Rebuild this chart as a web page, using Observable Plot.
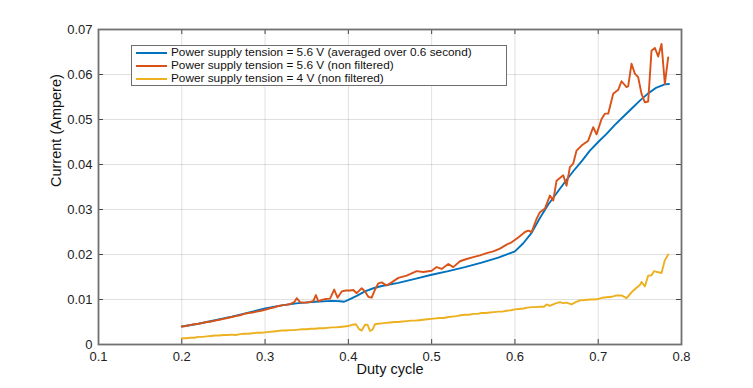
<!DOCTYPE html>
<html>
<head>
<meta charset="utf-8">
<script src="https://cdn.jsdelivr.net/npm/d3@7"></script>
<script src="https://cdn.jsdelivr.net/npm/@observablehq/plot@0.6"></script>
<style>
  html, body { margin: 0; padding: 0; background: #fff; }
  #wrap { position: relative; width: 753px; height: 388px; font-family: "Liberation Sans", Arial, Helvetica, sans-serif; }
  #legend { position: absolute; left: 131px; top: 45px; width: 374px; height: 39px; border: 1px solid #6e6e6e; background: #fff; box-sizing: content-box; padding-top: 0px; }
  .row { height: 13px; line-height: 13px; font-size: 11.8px; color: #111; white-space: nowrap; display: flex; align-items: center; }
  .sw { display: inline-block; width: 31px; height: 2px; margin-left: 4px; margin-right: 4px; }
</style>
</head>
<body>
<div id="wrap"></div>
<script>
const seriesNames = [
  "Power supply tension = 5.6 V (averaged over 0.6 second)",
  "Power supply tension = 5.6 V (non filtered)",
  "Power supply tension = 4 V (non filtered)"
];
const seriesColors = ["#0072BD", "#D95319", "#EDB120"];
const xTicks = [0.1, 0.2, 0.3, 0.4, 0.5, 0.6, 0.7, 0.8];
const yTicks = [0, 0.01, 0.02, 0.03, 0.04, 0.05, 0.06, 0.07];
const xLabel = "Duty cycle";
const yLabel = "Current (Ampere)";

const blueX = [0.20,0.22,0.24,0.26,0.28,0.30,0.32,0.34,0.36,0.38,0.39,0.395,0.40,0.41,0.42,0.43,0.44,0.46,0.48,0.50,0.52,0.54,0.56,0.58,0.60,0.61,0.62,0.63,0.64,0.65,0.66,0.67,0.68,0.69,0.70,0.71,0.72,0.73,0.74,0.75,0.76,0.77,0.78,0.785];
const blueY = [0.0040,0.0046,0.0054,0.0062,0.0071,0.0080,0.0087,0.0092,0.0095,0.0097,0.0096,0.0095,0.0099,0.0108,0.0118,0.0125,0.0130,0.0137,0.0146,0.0155,0.0163,0.0172,0.0182,0.0193,0.0207,0.0225,0.0248,0.0281,0.0311,0.0336,0.0361,0.0385,0.0407,0.0431,0.0450,0.0468,0.0488,0.0506,0.0524,0.0542,0.0558,0.0571,0.0578,0.0579];

const redX = [0.200,0.205,0.210,0.215,0.220,0.225,0.230,0.235,0.240,0.245,0.250,0.255,0.260,0.265,0.270,0.275,0.280,0.285,0.290,0.295,0.300,0.305,0.310,0.315,0.320,0.325,0.330,0.335,0.338,0.342,0.346,0.350,0.355,0.358,0.361,0.364,0.368,0.372,0.378,0.383,0.387,0.392,0.397,0.402,0.406,0.410,0.416,0.420,0.424,0.428,0.432,0.436,0.440,0.446,0.452,0.460,0.470,0.482,0.490,0.500,0.506,0.512,0.520,0.526,0.534,0.542,0.550,0.558,0.566,0.574,0.582,0.590,0.596,0.604,0.612,0.616,0.620,0.626,0.630,0.636,0.642,0.646,0.650,0.658,0.662,0.666,0.670,0.674,0.680,0.688,0.694,0.698,0.704,0.708,0.712,0.718,0.724,0.728,0.734,0.736,0.740,0.744,0.748,0.752,0.756,0.760,0.764,0.768,0.772,0.776,0.780,0.784];
const redY = [0.0040,0.0041,0.0043,0.0045,0.0046,0.0048,0.0050,0.0051,0.0053,0.0055,0.0057,0.0059,0.0061,0.0063,0.0065,0.0068,0.0070,0.0071,0.0073,0.0075,0.0077,0.0080,0.0082,0.0085,0.0087,0.0088,0.0090,0.0094,0.0103,0.0094,0.0093,0.0093,0.0095,0.0097,0.0110,0.0096,0.0099,0.0101,0.0102,0.0122,0.0104,0.0118,0.0120,0.0120,0.0121,0.0114,0.0125,0.0118,0.0106,0.0104,0.0122,0.0136,0.0138,0.0131,0.0138,0.0148,0.0153,0.0163,0.0161,0.0164,0.0172,0.0168,0.0179,0.0172,0.0185,0.0190,0.0194,0.0198,0.0203,0.0207,0.0213,0.0222,0.0227,0.0238,0.0250,0.0253,0.0250,0.0279,0.0294,0.0302,0.0331,0.0320,0.0364,0.0376,0.0353,0.0394,0.0402,0.0431,0.0442,0.0453,0.0483,0.0467,0.0501,0.0513,0.0513,0.0557,0.0566,0.0585,0.0572,0.0574,0.0624,0.0602,0.0594,0.0557,0.0538,0.0540,0.0653,0.0659,0.0640,0.0668,0.0579,0.0638];

const yellowX = [0.200,0.205,0.210,0.215,0.220,0.225,0.230,0.235,0.240,0.245,0.250,0.255,0.260,0.265,0.270,0.275,0.280,0.285,0.290,0.295,0.300,0.305,0.310,0.315,0.320,0.325,0.330,0.335,0.340,0.345,0.350,0.355,0.360,0.365,0.370,0.375,0.380,0.385,0.390,0.395,0.400,0.405,0.409,0.413,0.416,0.420,0.423,0.426,0.429,0.432,0.436,0.440,0.445,0.450,0.455,0.460,0.465,0.470,0.475,0.480,0.485,0.490,0.495,0.500,0.505,0.510,0.515,0.520,0.525,0.530,0.535,0.540,0.545,0.550,0.555,0.560,0.565,0.570,0.575,0.580,0.585,0.590,0.595,0.600,0.605,0.610,0.615,0.620,0.625,0.630,0.635,0.638,0.642,0.648,0.654,0.658,0.662,0.668,0.673,0.678,0.684,0.690,0.695,0.700,0.705,0.710,0.716,0.722,0.728,0.734,0.740,0.746,0.750,0.752,0.756,0.760,0.764,0.767,0.771,0.776,0.780,0.784];
const yellowY = [0.0014,0.0014,0.0015,0.0015,0.0017,0.0017,0.0018,0.0019,0.0020,0.0020,0.0021,0.0021,0.0022,0.0021,0.0023,0.0024,0.0024,0.0025,0.0026,0.0026,0.0027,0.0028,0.0029,0.0030,0.0031,0.0031,0.0032,0.0032,0.0033,0.0034,0.0034,0.0035,0.0035,0.0036,0.0036,0.0037,0.0038,0.0038,0.0039,0.0040,0.0041,0.0044,0.0045,0.0034,0.0031,0.0044,0.0044,0.0030,0.0033,0.0045,0.0046,0.0047,0.0048,0.0049,0.0050,0.0050,0.0051,0.0052,0.0053,0.0053,0.0054,0.0055,0.0056,0.0057,0.0058,0.0059,0.0059,0.0061,0.0062,0.0063,0.0065,0.0066,0.0066,0.0068,0.0068,0.0070,0.0070,0.0071,0.0072,0.0073,0.0073,0.0075,0.0076,0.0078,0.0079,0.0080,0.0082,0.0083,0.0083,0.0084,0.0084,0.0089,0.0086,0.0091,0.0094,0.0092,0.0093,0.0089,0.0094,0.0098,0.0099,0.0100,0.0100,0.0101,0.0104,0.0105,0.0106,0.0109,0.0109,0.0103,0.0116,0.0126,0.0132,0.0139,0.0129,0.0153,0.0154,0.0163,0.0161,0.0159,0.0187,0.0200];

const seriesX = [blueX, redX, yellowX];
const seriesY = [blueY, redY, yellowY];
const rows = [];
seriesX.forEach((xs, s) => xs.forEach((x, i) => rows.push({series: seriesNames[s], x, y: seriesY[s][i]})));

const fmt = d => String(+d.toFixed(2));
const mL = 98, mR = 72, mT = 29, mB = 44, W = 753, H = 388;
const innerH = H - mT - mB, innerW = W - mL - mR, tk = 5;

const chart = Plot.plot({
  width: W, height: H,
  marginLeft: mL, marginRight: mR, marginTop: mT, marginBottom: mB,
  style: {fontFamily: '"Liberation Sans", Arial, Helvetica, sans-serif', fontSize: "13px", color: "#222", background: "#fff"},
  x: {domain: [0.1, 0.8]},
  y: {domain: [0, 0.07]},
  color: {domain: seriesNames, range: seriesColors},
  marks: [
    Plot.gridX(xTicks, {stroke: "#000", strokeOpacity: 0.12}),
    Plot.gridY(yTicks, {stroke: "#000", strokeOpacity: 0.12}),
    Plot.line(rows, {x: "x", y: "y", z: "series", stroke: "series", strokeWidth: 1.9}),
    Plot.tickX(xTicks, {x: d => d, insetTop: innerH - tk, stroke: "#444", strokeWidth: 1}),
    Plot.tickX(xTicks, {x: d => d, insetBottom: innerH - tk, stroke: "#444", strokeWidth: 1}),
    Plot.tickY(yTicks, {y: d => d, insetRight: innerW - tk, stroke: "#444", strokeWidth: 1}),
    Plot.tickY(yTicks, {y: d => d, insetLeft: innerW - tk, stroke: "#444", strokeWidth: 1}),
    Plot.frame({stroke: "#707070", strokeWidth: 1.8}),
    Plot.axisX(xTicks, {tickSize: 0, tickPadding: 7, tickFormat: fmt, label: null, fontSize: 13}),
    Plot.axisY(yTicks, {tickSize: 0, tickPadding: 6, tickFormat: fmt, label: null, fontSize: 13}),
    Plot.text([xLabel], {frameAnchor: "bottom", dy: 25, text: d => d, fontSize: 14.5, lineAnchor: "middle", fill: "#111"}),
    Plot.text([yLabel], {frameAnchor: "left", dx: -42, rotate: -90, text: d => d, fontSize: 14.5, lineAnchor: "middle", fill: "#111"})
  ]
});

const wrap = document.getElementById("wrap");
wrap.appendChild(chart);
const legend = document.createElement("div");
legend.id = "legend";
seriesNames.forEach((name, i) => {
  const r = document.createElement("div");
  r.className = "row";
  const sw = document.createElement("span");
  sw.className = "sw";
  sw.style.background = seriesColors[i];
  r.appendChild(sw);
  r.appendChild(document.createTextNode(name));
  legend.appendChild(r);
});
wrap.appendChild(legend);
</script>
</body>
</html>
